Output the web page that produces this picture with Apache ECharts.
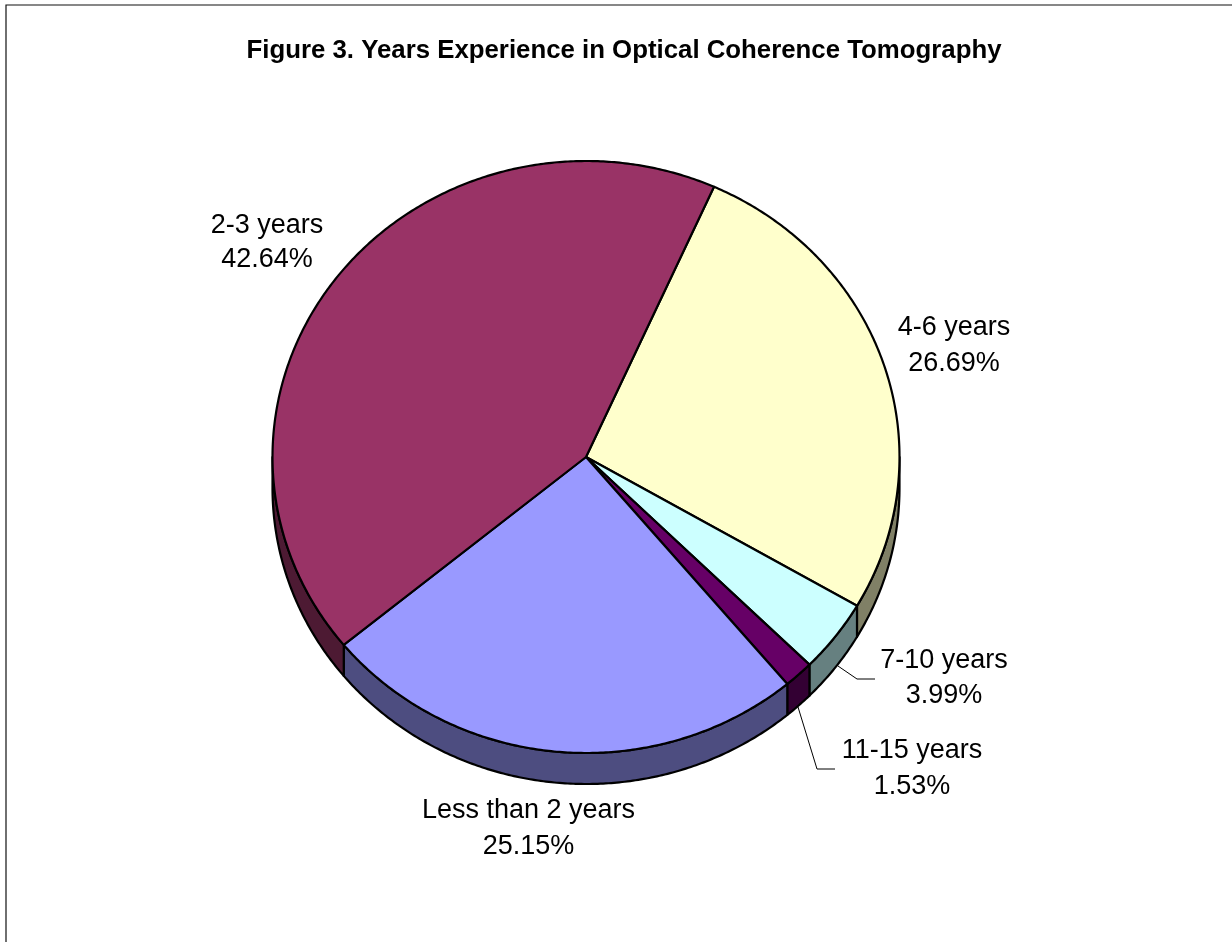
<!DOCTYPE html>
<html>
<head>
<meta charset="utf-8">
<title>Figure 3</title>
<style>
html, body { margin: 0; padding: 0; background: #fff; }
#chart { width: 1232px; height: 942px; }
</style>
<script src="https://cdn.jsdelivr.net/npm/echarts@6/dist/echarts.min.js"></script>
</head>
<body>
<div id="chart"></div>
<script>
var categories = ['4-6 years', '7-10 years', '11-15 years', 'Less than 2 years', '2-3 years'];
var percents = [26.69, 3.99, 1.53, 25.15, 42.64];
var topColors = ['#FFFFCC', '#CCFFFF', '#660066', '#9999FF', '#993366'];
var sideColors = ['#808066', '#668080', '#330033', '#4D4D80', '#4D1A33'];

/* label centre x, first line y, second line y */
var labelSpots = [[954, 327.5, 363.5], [944, 660.5, 695.5], [912, 750.5, 786.5], [528.5, 810.5, 846.5], [267, 225.5, 259.5]];
/* leader lines, only the two thin slices have one */
var leaders = [null, [[838, 666], [857, 679], [875, 679]], [[798, 707], [817, 769], [835, 769]], null, null];

var cx = 586, cy = 457, rx = 313.5, ry = 296, depth = 31;
var startAngle = 24.1;   // clockwise from 12 o'clock

function rim(deg, drop) {
    var a = deg * Math.PI / 180;
    return [cx + rx * Math.sin(a), cy - ry * Math.cos(a) + (drop || 0)];
}

function arcPoints(from, to, drop) {
    var pts = [];
    var n = Math.max(2, Math.ceil((to - from) * 2));
    for (var i = 0; i <= n; i++) {
        pts.push(rim(from + (to - from) * i / n, drop));
    }
    return pts;
}

function renderSlice(params, api) {
    var i = params.dataIndex;
    var total = percents.reduce(function (s, v) { return s + v; }, 0);
    var before = 0;
    for (var k = 0; k < i; k++) before += percents[k];
    var a0 = startAngle + before / total * 360;
    var a1 = a0 + api.value(0) / total * 360;
    var children = [];

    // side wall, only the part on the front half of the disc shows
    var s0 = Math.max(a0, 90), s1 = Math.min(a1, 270);
    if (s1 > s0) {
        var wall = arcPoints(s0, s1, 0).concat(arcPoints(s0, s1, depth).reverse());
        children.push({
            type: 'polygon',
            z2: 1,
            shape: { points: wall },
            style: { fill: sideColors[i], stroke: '#000', lineWidth: 2.2, lineJoin: 'round' }
        });
    }

    // top face
    children.push({
        type: 'polygon',
        z2: 2,
        shape: { points: [[cx, cy]].concat(arcPoints(a0, a1, 0)) },
        style: { fill: topColors[i], stroke: '#000', lineWidth: 2.2, lineJoin: 'round' }
    });

    if (leaders[i]) {
        children.push({
            type: 'polyline',
            z2: 3,
            shape: { points: leaders[i] },
            style: { fill: null, stroke: '#000', lineWidth: 1 }
        });
    }

    var spot = labelSpots[i];
    var lines = [categories[i], percents[i].toFixed(2) + '%'];
    lines.forEach(function (line, n) {
        children.push({
            type: 'text',
            z2: 4,
            style: {
                text: line,
                x: spot[0],
                y: spot[n + 1],
                align: 'center',
                verticalAlign: 'middle',
                fill: '#000',
                font: '27px "Liberation Sans", Arial, sans-serif'
            }
        });
    });

    return { type: 'group', children: children };
}

var chart = echarts.init(document.getElementById('chart'));
var option = {
    backgroundColor: '#fff',
    animation: false,
    title: {
        text: 'Figure 3. Years Experience in Optical Coherence Tomography',
        left: 619,
        top: 33,
        textAlign: 'center',
        textStyle: {
            fontFamily: '"Liberation Sans", Arial, sans-serif',
            fontWeight: 'bold',
            fontSize: 25.8,
            color: '#000'
        }
    },
    graphic: [
        { type: 'polyline', shape: { points: [[6, 942], [6, 5], [1232, 5]] }, style: { fill: null, stroke: '#111', lineWidth: 1.2 } }
    ],
    series: [{
        type: 'custom',
        coordinateSystem: 'none',
        renderItem: renderSlice,
        data: percents.map(function (v, i) { return { name: categories[i], value: [v] }; })
    }]
};
chart.setOption(option);
</script>
</body>
</html>
